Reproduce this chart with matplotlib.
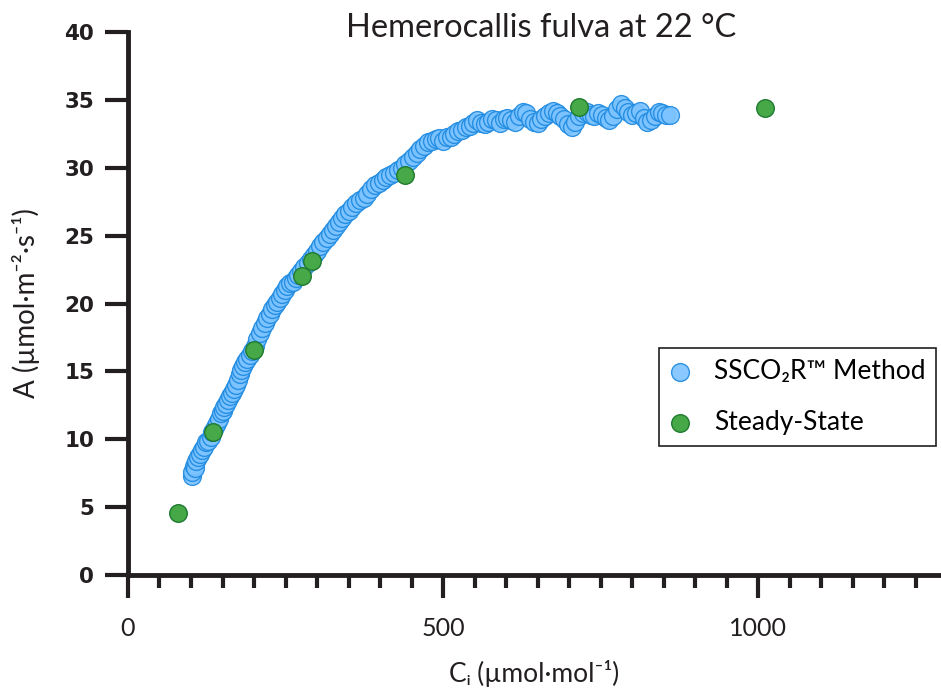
import numpy as np
import matplotlib.pyplot as plt
from matplotlib.ticker import MultipleLocator

# SSCO2R method (dense A/Ci curve)
ci_ssco2r = [101, 102, 104, 106, 108, 111, 114, 117, 120, 124, 127, 131, 134, 138, 141,
             144, 147, 150, 153, 156, 159, 162, 165, 168, 171, 174, 177, 180, 183, 186,
             189, 193, 197, 201, 205, 209, 213, 217, 221, 225, 229, 233, 237, 241, 245,
             249, 253, 257, 262, 266, 270, 275, 280, 285, 290, 295, 300, 305, 310, 315,
             320, 325, 330, 335, 340, 345, 350, 356, 362, 368, 374, 380, 386, 392, 398,
             404, 410, 416, 422, 428, 434, 440, 446, 452, 458, 464, 470, 476, 482, 488,
             494, 500, 506, 512, 518, 524, 530, 536, 542, 548, 554, 560, 566, 572, 578,
             584, 590, 596, 602, 608, 614, 620, 626, 632, 638, 644, 650, 656, 662, 668,
             674, 680, 686, 692, 698, 704, 710, 716, 722, 728, 734, 740, 746, 752, 758,
             764, 770, 776, 782, 788, 794, 800, 806, 812, 818, 824, 830, 836, 842, 848,
             854, 860]
a_ssco2r = [7.3, 7.6, 8.0, 7.9, 8.4, 8.7, 8.9, 9.2, 9.4, 9.8, 9.9, 10.2, 10.5, 10.9, 11.2,
            11.5, 11.9, 12.1, 12.4, 12.6, 12.9, 13.2, 13.4, 13.7, 14.0, 14.4, 14.8, 15.1, 15.4, 15.7,
            15.9, 16.2, 16.5, 16.9, 17.4, 17.8, 18.2, 18.6, 18.9, 19.2, 19.6, 19.9, 20.1, 20.4, 20.7,
            21.0, 21.3, 21.5, 21.6, 21.9, 22.1, 22.4, 22.7, 23.0, 23.3, 23.6, 23.9, 24.2, 24.5, 24.8,
            25.1, 25.4, 25.7, 26.0, 26.3, 26.6, 26.8, 27.1, 27.4, 27.6, 27.8, 28.1, 28.4, 28.7, 28.9,
            29.1, 29.3, 29.5, 29.6, 29.8, 30.0, 30.3, 30.5, 30.8, 31.1, 31.4, 31.6, 31.9, 32.0, 32.1,
            32.2, 32.0, 32.3, 32.3, 32.5, 32.7, 32.8, 33.0, 33.1, 33.3, 33.5, 33.3, 33.2, 33.4, 33.6,
            33.5, 33.3, 33.6, 33.7, 33.5, 33.4, 33.8, 34.1, 34.0, 33.6, 33.4, 33.3, 33.6, 33.8, 34.0,
            34.2, 34.0, 33.8, 33.6, 33.2, 33.0, 33.4, 33.8, 34.0, 34.1, 33.9, 33.8, 34.0, 33.9, 33.7,
            33.5, 33.8, 34.3, 34.7, 34.4, 34.1, 33.9, 34.0, 34.2, 33.7, 33.4, 33.5, 33.8, 34.1, 34.0,
            33.9, 33.9]

# steady-state measurements
ci_steady = [79, 135, 200, 276, 292, 440, 716, 1010]
a_steady = [4.6, 10.5, 16.6, 22.0, 23.1, 29.5, 34.5, 34.4]

ink = '#231f20'
fig = plt.figure(figsize=(9.41, 6.89), dpi=100)
ax = fig.add_axes([0.136, 0.1655, 0.864, 0.788])

ax.scatter(ci_ssco2r, a_ssco2r, s=165, facecolor='#7cc3ff', edgecolor='#1e8ae0',
           linewidth=1.0, alpha=0.9, zorder=2, label='SSCO\u2082R\u2122 Method')
ax.scatter(ci_steady, a_steady, s=160, facecolor='#46a846', edgecolor='#1f7a30',
           linewidth=1.0, zorder=3, label='Steady-State')

ax.set_xlim(0, 1290)
ax.set_ylim(0, 40)
ax.xaxis.set_major_locator(MultipleLocator(500))
ax.xaxis.set_minor_locator(MultipleLocator(50))
ax.yaxis.set_major_locator(MultipleLocator(5))

for side in ['top', 'right']:
    ax.spines[side].set_visible(False)
for side in ['left', 'bottom']:
    ax.spines[side].set_linewidth(3.5)
    ax.spines[side].set_color(ink)

ax.tick_params(axis='y', which='major', length=16.5, width=3.0, color=ink, pad=8)
ax.tick_params(axis='x', which='major', length=16.5, width=3.0, color=ink, pad=14)
ax.tick_params(axis='x', which='minor', length=9, width=3.0, color=ink)

for lab in ax.get_yticklabels():
    lab.set_fontfamily('DejaVu Sans')
    lab.set_fontweight('bold')
    lab.set_fontsize(15.5)
    lab.set_color(ink)
for lab in ax.get_xticklabels():
    lab.set_fontfamily(['Lato', 'DejaVu Sans'])
    lab.set_fontsize(18)
    lab.set_color(ink)

fig.text(0.575, 0.959, 'Hemerocallis fulva at 22 \u00b0C', family=['Lato', 'DejaVu Sans'],
         fontsize=23.5, color=ink, ha='center', va='center')
ax.set_ylabel('A (\u00b5mol\u00b7m\u207b\u00b2\u00b7s\u207b\u00b9)', family=['Lato', 'DejaVu Sans'],
              fontsize=20, color=ink, labelpad=17)
ax.set_xlabel('C\u1d62 (\u00b5mol\u00b7mol\u207b\u00b9)', family=['Lato', 'DejaVu Sans'],
              fontsize=19, color=ink, labelpad=14)

leg = ax.legend(loc='upper right', bbox_to_anchor=(0.994, 0.418), borderaxespad=0,
                prop={'family': ['Lato', 'DejaVu Sans'], 'size': 19},
                fancybox=False, edgecolor=ink, framealpha=1,
                handlelength=0.8, handletextpad=0.9, labelspacing=1.0, borderpad=0.4)
leg.get_frame().set_linewidth(1.2)

fig.savefig('out.png', dpi=100)
